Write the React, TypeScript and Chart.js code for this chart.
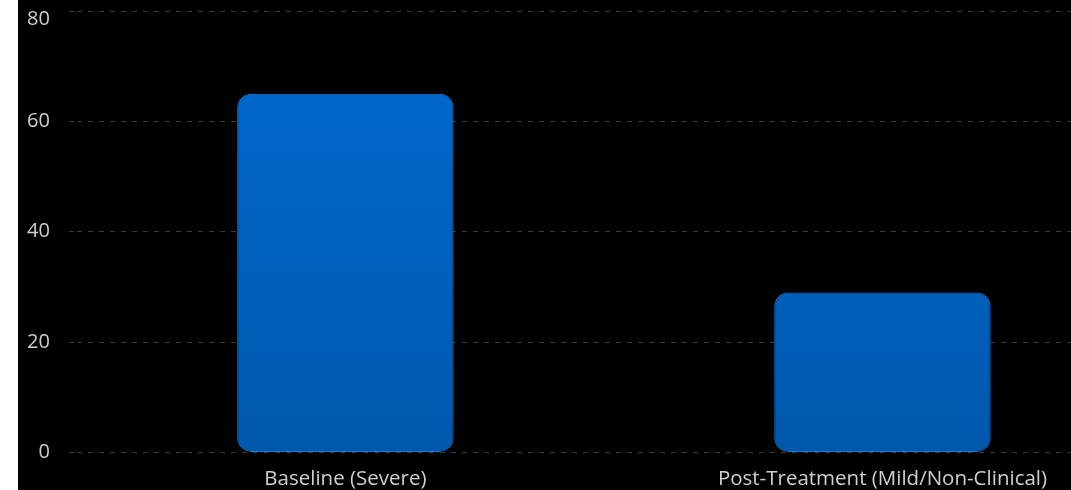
import React, { useEffect, useRef } from "react";
import { Chart, registerables } from "chart.js";

Chart.register(...registerables);

const categories = ["Baseline (Severe)", "Post-Treatment (Mild/Non-Clinical)"];
const values = [65, 29];
const yTicks = [0, 20, 40, 60, 80];

export default function App() {
  const ref = useRef<HTMLCanvasElement | null>(null);

  useEffect(() => {
    document.body.style.margin = "0";
    document.body.style.background = "#fff";
    const canvas = ref.current!;
    const topTick = yTicks[yTicks.length - 1];
    const chart = new Chart(canvas, {
      type: "bar",
      data: {
        labels: categories,
        datasets: [
          {
            data: values,
            backgroundColor: (ctx: any) => {
              const area = ctx.chart.chartArea;
              if (!area) return "#0062C4";
              const g = ctx.chart.ctx.createLinearGradient(0, area.top, 0, area.bottom);
              g.addColorStop(0, "#006AD2");
              g.addColorStop(1, "#0058AC");
              return g;
            },
            borderColor: "#1A78DA",
            borderWidth: 1,
            borderSkipped: false,
            borderRadius: 14,
            categoryPercentage: 0.5,
            barPercentage: 0.806,
          },
        ],
      },
      options: {
        responsive: false,
        maintainAspectRatio: false,
        animation: false,
        layout: { padding: { left: -10, right: 10, top: -36, bottom: 18 } },
        plugins: { legend: { display: false }, tooltip: { enabled: false } },
        scales: {
          x: {
            grid: { display: false, drawTicks: false },
            border: { display: false },
            ticks: {
              color: "#cfcfcf",
              font: { family: "'Open Sans', sans-serif", size: 20.5 },
              padding: 14,
              maxRotation: 0,
              autoSkip: false,
            },
          },
          y: {
            min: 0,
            max: 80,
            afterBuildTicks: (axis: any) => {
              axis.ticks = yTicks.map((v) => ({ value: v }));
            },
            grid: {
              color: "#3a3a3a",
              lineWidth: 1,
              tickLength: 8,
              tickBorderDash: [5, 6],
              tickColor: "#3a3a3a",
            },
            border: { display: false, dash: [5, 6] },
            ticks: {
              color: "#cfcfcf",
              font: (ctx: any) => ({
                family: "'Open Sans', sans-serif",
                size: 20,
                lineHeight: ctx.tick && ctx.tick.value === topTick ? 0.8 : 1.2,
              }),
              callback: (v: any) => (v === topTick ? ["", String(v)] : String(v)),
              padding: 19,
            },
          },
        },
      },
      plugins: [
        {
          id: "dashgrid",
          beforeDraw: (c: any) => {
            const g = c.options.scales.y.grid;
            g.borderDash = [5, 6];
          },
        },
      ],
    } as any);
    return () => chart.destroy();
  }, []);

  return (
    <div
      style={{
        position: "fixed",
        left: 18,
        top: 0,
        width: 1053,
        height: 490,
        overflow: "hidden",
        background: "#000",
      }}
    >
      <canvas
        ref={ref}
        width={1143}
        height={547}
        style={{ display: "block", marginTop: -24 }}
      />
    </div>
  );
}
